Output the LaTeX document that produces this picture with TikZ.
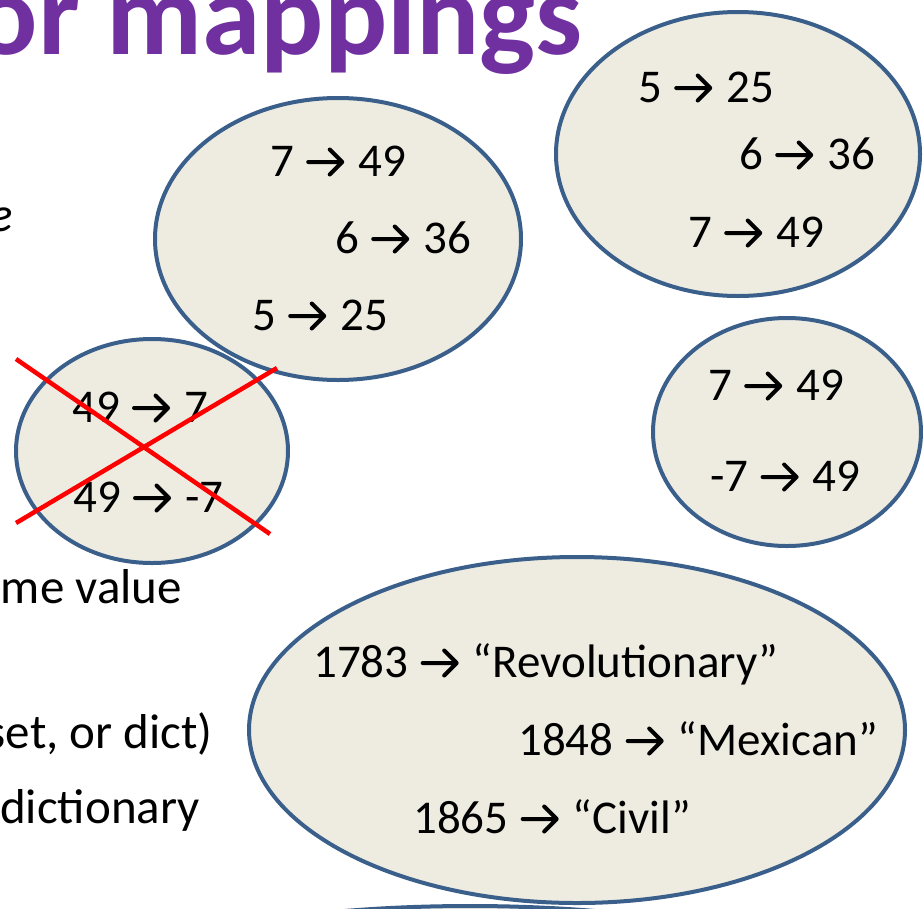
\documentclass[tikz,border=0pt]{standalone}
\usepackage{fontspec}
\setmainfont{Carlito}
\usetikzlibrary{positioning}
\definecolor{setfill}{HTML}{EEECE1}
\definecolor{setline}{HTML}{3A5F8B}
\definecolor{titlecol}{HTML}{7030A0}
\begin{document}
\begin{tikzpicture}[x=1pt, y=-1pt, line join=round, line cap=round,
    font=\fontsize{47}{56}\selectfont,
    set/.style={fill=setfill, draw=setline, line width=4pt},
    pair/.style={inner sep=0pt, anchor=base west},
    maps/.style={line width=4pt},
    body/.style={inner sep=0pt, anchor=base east, font=\fontsize{49}{58}\selectfont}]
  \useasboundingbox (0,0) rectangle (923,908);
  \clip (0,0) rectangle (923,908);

  % centres of the sets
  \coordinate (S1) at (338,239);
  \coordinate (S2) at (738,154);
  \coordinate (S3) at (152,451);
  \coordinate (S4) at (787,432);
  \coordinate (S5) at (577,730);
  \coordinate (S6) at (470,1006);

  \draw[set] (S6) ellipse [x radius=400, y radius=100];
  \draw[set] (S1) ellipse [x radius=183, y radius=141];
  \draw[set] (S2) ellipse [x radius=182, y radius=142];
  \draw[set] (S3) ellipse [x radius=136, y radius=112];
  \draw[set] (S4) ellipse [x radius=134, y radius=114];
  \draw[set] (S5) ellipse [x radius=328, y radius=173];

  % title and text of the slide
  \node[body, text=titlecol, font=\fontsize{118}{128}\selectfont\bfseries] (title) at (583,54) {or mappings};
  \node[body, font=\fontsize{49}{58}\selectfont\itshape] (em) at (13,231) {e};
  \node[body] (same) at (182,603) {ame value};
  \node[body] (kind) at (213,748) {set, or dict)};
  \node[body] (dict) at (200,823) {dictionary};

  % the pairs of each set
  \foreach \n/\x/\y/\k/\v in {a1/270/176/7/49, a2/335/253/6/36, a3/252/330/5/25,
      b1/638/102/5/25, b2/739/169/6/36, b3/688/247/7/49,
      c1/72/422/49/7, c2/73/512/49/-7,
      d1/708/400/7/49, d2/710/491/-7/49,
      e1/313/677/1783/“Revolutionary”, e2/518/755/1848/“Mexican”, e3/413/833/1865/“Civil”}
  {
    \node[pair] (\n k) at (\x,\y) {\k};
    \node[pair, right=64pt of \n k.base east, anchor=base west] (\n v) {\v};
    \coordinate (\n s) at ([xshift=14pt, yshift=14pt]\n k.base east);
    \coordinate (\n t) at ([xshift=-16pt, yshift=14pt]\n v.base west);
    \draw[maps] (\n s) -- (\n t)
      ([xshift=-12.5pt, yshift=12.5pt]\n t) -- (\n t) -- ([xshift=-12.5pt, yshift=-12.5pt]\n t);
  }

  % not a function
  \coordinate (X1) at (16,359);
  \coordinate (X2) at (270,534);
  \coordinate (X3) at (16,523);
  \coordinate (X4) at (277,368);
  \draw[red, line width=4.5pt, line cap=butt] (X1) -- (X2) (X3) -- (X4);
\end{tikzpicture}
\end{document}
